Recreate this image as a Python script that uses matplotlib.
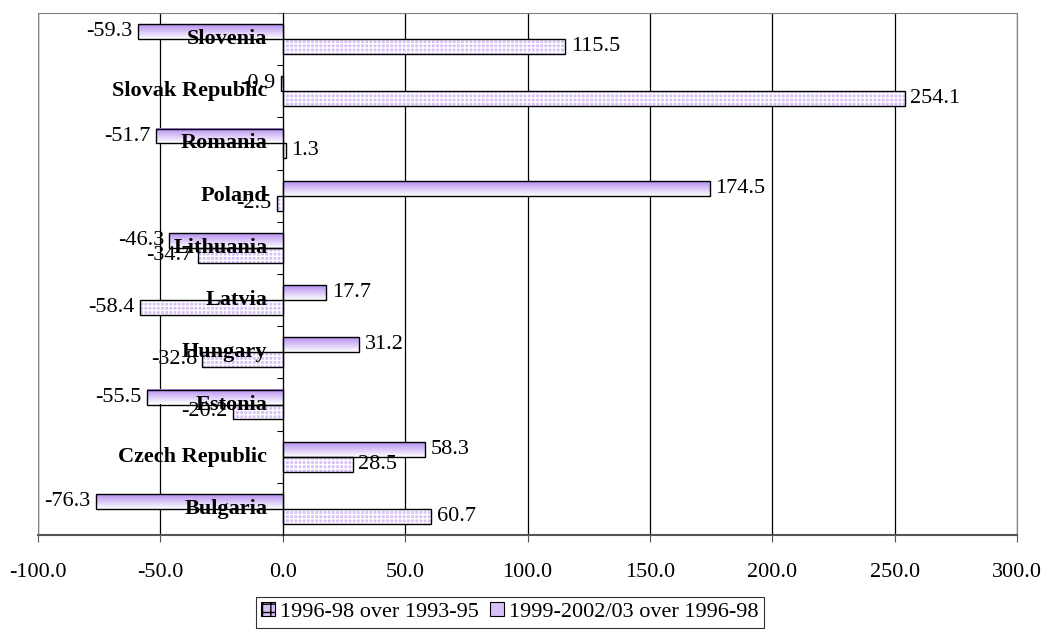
import numpy as np
import matplotlib
matplotlib.use("Agg")
import matplotlib.pyplot as plt
from matplotlib.patches import Patch
from matplotlib.colors import LinearSegmentedColormap

plt.rcParams['font.family'] = ['Liberation Serif', 'DejaVu Serif']
plt.rcParams['hatch.linewidth'] = 1.0

countries = ["Bulgaria", "Czech Republic", "Estonia", "Hungary", "Latvia",
             "Lithuania", "Poland", "Romania", "Slovak Republic", "Slovenia"]
change_9698 = [60.7, 28.5, -20.2, -32.8, -58.4, -34.7, -2.5, 1.3, 254.1, 115.5]
change_9903 = [-76.3, 58.3, -55.5, 31.2, 17.7, -46.3, 174.5, -51.7, -0.9, -59.3]
series_names = ["1996-98 over 1993-95", "1999-2002/03 over 1996-98"]
x_ticks = [-100, -50, 0, 50, 100, 150, 200, 250, 300]

FS = 16
hatch_face = "#d8c0f8"
grad_top = "#b48ef0"
bar_h = 0.286

fig = plt.figure(figsize=(10.45, 6.3), dpi=100)
ax = fig.add_axes([38 / 1045, 1 - 535 / 630, (1017 - 38) / 1045, (535 - 13) / 630])

pos = np.arange(len(countries))
y_low = pos - bar_h / 2
y_up = pos + bar_h / 2

# lower bars: lavender with a fine white grid
ax.barh(y_low, change_9698, height=bar_h, color=hatch_face, edgecolor="white",
        hatch="++++", linewidth=0, zorder=2)
ax.barh(y_low, change_9698, height=bar_h, fill=False, edgecolor="black",
        linewidth=1.0, zorder=3)

# upper bars: vertical gradient fill, purple on top fading to white
cmap = LinearSegmentedColormap.from_list("grad", ["white", grad_top])
grad = np.linspace(0, 1, 64).reshape(-1, 1)
upper = ax.barh(y_up, change_9903, height=bar_h, color="none", edgecolor="black",
                linewidth=1.0, zorder=3)
for rect in upper:
    x0, y0 = rect.get_x(), rect.get_y()
    w, h = rect.get_width(), rect.get_height()
    ax.imshow(grad, cmap=cmap, aspect="auto", origin="lower",
              extent=(x0, x0 + w, y0, y0 + h), zorder=2, interpolation="bilinear")

# value labels
for ys, vals in ((y_low, change_9698), (y_up, change_9903)):
    for y, v in zip(ys, vals):
        ax.annotate(f"{v:.1f}", xy=(v, y), xytext=(4 if v >= 0 else -4, 0),
                    textcoords="offset points", ha="left" if v >= 0 else "right",
                    va="center", fontsize=FS, zorder=7)

# category names drawn beside the zero line, on top of the bars
for p, name in zip(pos, countries):
    ax.annotate(name, xy=(0, p), xytext=(-11, 0), textcoords="offset points",
                ha="right", va="center", fontsize=FS, fontweight="bold", zorder=8)

ax.set_xlim(-100, 300)
ax.set_ylim(-0.5, len(countries) - 0.5)
ax.set_xticks(x_ticks)
ax.set_xticklabels([f"{t:.1f}" for t in x_ticks], fontsize=FS)
ax.tick_params(axis="x", direction="out", length=5, pad=15, color="#555555")
ax.xaxis.grid(True, color="black", linewidth=0.9)
ax.set_axisbelow(True)

# category axis sits on the zero line
ax.spines["left"].set_position(("data", 0))
ax.spines["left"].set_color("black")
ax.spines["left"].set_zorder(5)
for s in ("top", "right", "bottom"):
    ax.spines[s].set_color("#808080")
ax.spines["bottom"].set_color("#555555")
ax.spines["bottom"].set_linewidth(1.5)
ax.axvline(-100, color="#808080", linewidth=1.5, zorder=5)
ax.set_yticks(np.arange(len(countries) + 1) - 0.5)
ax.set_yticklabels([])
ax.tick_params(axis="y", which="major", direction="out", length=4, color="black")

handles = [Patch(facecolor=hatch_face, edgecolor="black", hatch="++", linewidth=0.8),
           Patch(facecolor="#d6c0f7", edgecolor="black", linewidth=0.8)]
leg = fig.legend(handles, series_names, loc="center", bbox_to_anchor=(510 / 1045, 1 - 612 / 630),
                 ncol=2, frameon=True, fancybox=False, fontsize=FS, handlelength=0.6,
                 handleheight=0.6, handletextpad=0.25, columnspacing=0.5, borderpad=0.25,
                 borderaxespad=0)
leg.get_frame().set_edgecolor("black")
leg.get_frame().set_linewidth(0.8)

fig.savefig("out.png", dpi=100)
